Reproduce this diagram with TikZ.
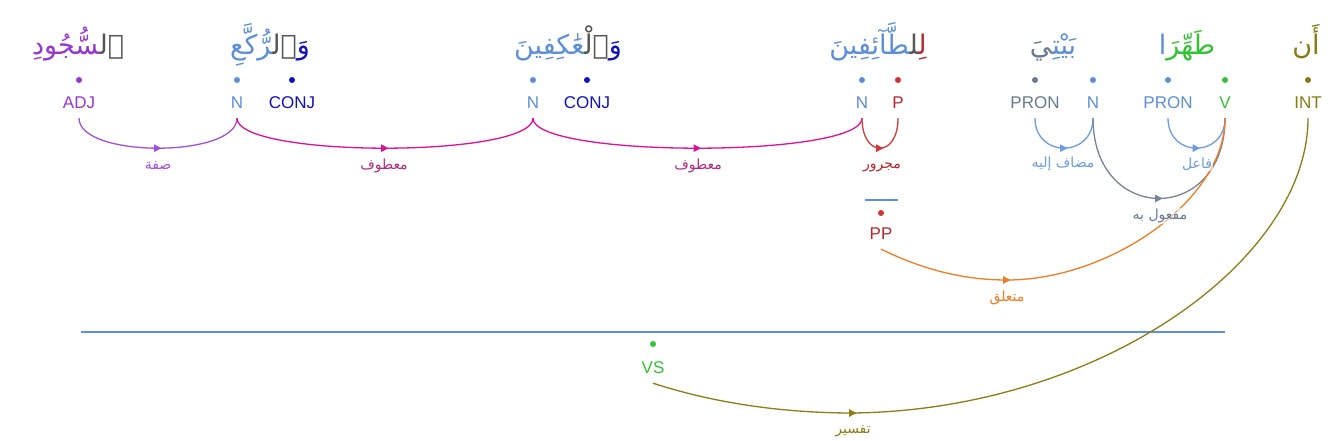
\documentclass[tikz,border=0pt]{standalone}
\usepackage{fontspec}
\setmainfont{Liberation Sans}
\newfontfamily\arfont[Script=Arabic]{DejaVu Sans}
\usetikzlibrary{arrows.meta,decorations.markings}
\TeXXeTstate=1
\newcommand{\zj}{^^^^200d}
\definecolor{adjc}{HTML}{9538CC}
\definecolor{detc}{HTML}{555555}
\definecolor{nc}{HTML}{5C8FD8}
\definecolor{conjc}{HTML}{1111BB}
\definecolor{pc}{HTML}{B5272D}
\definecolor{pdot}{HTML}{D33333}
\definecolor{pronc}{HTML}{687A90}
\definecolor{vc}{HTML}{33C233}
\definecolor{intc}{HTML}{8A7A12}
\definecolor{sifal}{HTML}{A24FDB}
\definecolor{maatl}{HTML}{DD1199}
\definecolor{maatt}{HTML}{B02A85}
\definecolor{majl}{HTML}{D03A3A}
\definecolor{bluel}{HTML}{6E9CE0}
\definecolor{grayl}{HTML}{75849A}
\definecolor{orangel}{HTML}{F07C24}
\definecolor{olivel}{HTML}{8C7D16}
\definecolor{phrasel}{HTML}{5B8FDB}
\begin{document}
\begin{tikzpicture}[x=1pt,y=-1pt,
  dot/.style={circle,fill=#1,inner sep=0pt,minimum size=6pt},
  tag/.style={text=#1,font=\fontsize{17}{20}\selectfont,inner sep=0pt,text height=12.5pt,text depth=0pt,minimum height=32pt},
  word/.style={anchor=base,inner sep=0pt,font=\arfont\fontsize{27}{30}\selectfont},
  elabel/.style={text=#1,font=\arfont\fontsize{14}{16}\selectfont,inner sep=1pt,fill=white,fill opacity=0.6,text opacity=1},
  edge/.style={draw=#1,line width=1.3pt,postaction={decorate},
    decoration={markings,mark=at position 0.5 with {\arrow[xshift=3.5pt]{Triangle[length=7.5pt,width=7.5pt]}}}},
  halfedge/.style={draw=#1,line width=1.3pt,postaction={decorate},
    decoration={markings,mark=at position 1 with {\arrow[xshift=3.5pt]{Triangle[length=7.5pt,width=7.5pt]}}}},
  plainedge/.style={draw=#1,line width=1.3pt},
  phrase/.style={draw=phrasel,line width=1.4pt}]
\fill[white] (0,0) rectangle (1340,441);
\useasboundingbox (0,0) rectangle (1340,441);
% words
\node[word] (w1) at (78,55) {\textcolor{adjc}{\zj سُّجُودِ}\textcolor{detc}{ٱل\zj}};
\node[word] (w2) at (270,55) {\textcolor{nc}{\zj رُّكَّعِ}\textcolor{detc}{ٱل\zj}\textcolor{conjc}{وَ}};
\node[word] (w3) at (568,55) {\textcolor{nc}{\zj عَٰكِفِينَ}\textcolor{detc}{ٱلْ\zj}\textcolor{conjc}{وَ}};
\node[word] (w4) at (878,55) {\textcolor{nc}{\zj طَّآئِفِينَ}\textcolor{detc}{\zj ل\zj}\textcolor{pc}{لِ\zj}};
\node[word] (w5) at (1053,55) {\textcolor{pronc}{\zj يَ}\textcolor{nc}{بَيْتِ\zj}};
\node[word] (w6) at (1187,55) {\textcolor{nc}{ا}\textcolor{vc}{طَهِّرَ}};
\node[word] (w7) at (1306,55) {\textcolor{intc}{أَن}};
% dots
\node[dot=adjc] (dadj) at (79,80) {};
\node[dot=nc] (dn1) at (237,80) {};
\node[dot=conjc] (dconj1) at (292,80) {};
\node[dot=nc] (dn2) at (533,80) {};
\node[dot=conjc] (dconj2) at (587,80) {};
\node[dot=nc] (dn3) at (862,80) {};
\node[dot=pdot] (dp) at (898,80) {};
\node[dot=pronc] (dpron1) at (1035,80) {};
\node[dot=nc] (dn4) at (1093,80) {};
\node[dot=nc] (dpron2) at (1168,80) {};
\node[dot=vc] (dv) at (1225,80) {};
\node[dot=intc] (dint) at (1308,80) {};
\node[dot=pdot] (dpp) at (881,213) {};
\node[dot=vc] (dvs) at (653,344) {};
% tags
\node[tag=adjc] (adj) at (79,102) {ADJ};
\node[tag=nc] (n1) at (237,102) {N};
\node[tag=conjc] (conj1) at (292,102) {CONJ};
\node[tag=nc] (n2) at (533,102) {N};
\node[tag=conjc] (conj2) at (587,102) {CONJ};
\node[tag=nc] (n3) at (862,102) {N};
\node[tag=pc] (p) at (898,102) {P};
\node[tag=pronc] (pron1) at (1035,102) {PRON};
\node[tag=nc] (n4) at (1093,102) {N};
\node[tag=nc] (pron2) at (1168,102) {PRON};
\node[tag=vc] (v) at (1225,102) {V};
\node[tag=intc] (int) at (1308,102) {INT};
\node[tag=pc] (pp) at (881,233) {PP};
\node[tag=vc] (vs) at (653,367) {VS};
% phrase lines
\draw[phrase] (865,200) -- (898,200);
\draw[phrase] (81,332) -- (1225,332);
% edges
\coordinate (m1) at (1007,280);
\coordinate (m2) at (853,413);
\draw[edge=sifal] (adj.south) .. controls +(0,40) and +(0,40) .. (n1.south);
\draw[edge=maatl] (n1.south) .. controls +(0,40) and +(0,40) .. (n2.south);
\draw[edge=maatl] (n2.south) .. controls +(0,40) and +(0,40) .. (n3.south);
\draw[edge=majl] (n3.south) .. controls +(0,40) and +(0,40) .. (p.south);
\draw[edge=bluel] (pron1.south) .. controls +(0,40) and +(0,40) .. (n4.south);
\draw[edge=bluel] (pron2.south) .. controls +(0,40) and +(0,40) .. (v.south);
\draw[edge=grayl] (n4.south) .. controls +(0,107) and +(0,107) .. (v.south);
\draw[halfedge=orangel] (pp.south) .. controls (920,268) and (960,280) .. (m1);
\draw[plainedge=orangel] (m1) .. controls (1110,280) and (1225,200) .. (v.south);
\draw[halfedge=olivel] (vs.south) .. controls (720,405) and (790,413) .. (m2);
\draw[plainedge=olivel] (m2) .. controls (1100,410) and (1308,260) .. (int.south);
% edge labels
\node[elabel=sifal] (l1) at (158,166) {\beginR صفة\endR};
\node[elabel=maatt] (l2) at (384,166) {\beginR معطوف\endR};
\node[elabel=maatt] (l3) at (698,166) {\beginR معطوف\endR};
\node[elabel=pc] (l4) at (882,167) {\beginR مجرور\endR};
\node[elabel=bluel] (l5) at (1063,164) {\beginR مضاف إليه\endR};
\node[elabel=bluel] (l6) at (1197,164) {\beginR فاعل\endR};
\node[elabel=pronc] (l7) at (1160,216) {\beginR مفعول به\endR};
\node[elabel=orangel] (l8) at (1007,298) {\beginR متعلق\endR};
\node[elabel=olivel] (l9) at (853,431) {\beginR تفسير\endR};
\end{tikzpicture}
\end{document}
